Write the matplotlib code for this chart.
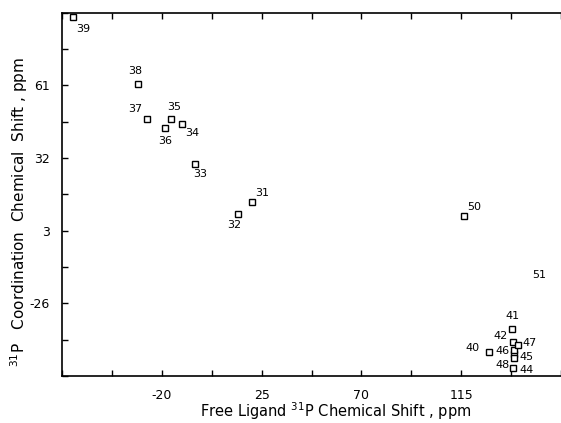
import numpy as np
import matplotlib
matplotlib.use("Agg")
import matplotlib.pyplot as plt

# compound numbers and shifts (ppm)
labels = ["31", "32", "33", "34", "35", "36", "37", "38", "39",
          "40", "41", "42", "44", "45", "46", "47", "48", "50", "51"]
free_shift = [20.7, 14.4, -5.1, -10.7, -15.9, -18.4, -26.5, -30.6, -60.1,
              127.7, 138.0, 138.5, 138.4, 138.6, 138.6, 140.5, 138.6, 116.2, 162.0]
coord_shift = [14.3, 9.8, 29.7, 45.7, 47.7, 44.0, 47.7, 61.6, 88.1,
               -45.6, -36.1, -41.4, -51.8, -46.2, -44.5, -42.5, -47.8, 9.0, -14.0]

# label offsets in pixels (dx, dy)
offsets = {"31": (10, 9), "32": (-4, -11), "33": (5, -10), "34": (10, -9),
           "35": (3, 12), "36": (0, -13), "37": (-12, 10), "38": (-3, 13),
           "39": (10, -12), "40": (-17, 4), "41": (0, 13), "42": (-13, 6),
           "44": (13, -2), "45": (13, -3), "46": (-11, -1), "47": (12, 2),
           "48": (-11, -7), "50": (10, 9), "51": (-26, -2)}

x_ticks = np.arange(-65, 160.1, 22.5)
y_ticks = np.arange(-55, 90.1, 14.5)
x_labels = {-20: "-20", 25: "25", 70: "70", 115: "115"}
y_labels = {61: "61", 32: "32", 3: "3", -26: "-26"}

fig = plt.figure(figsize=(5.61, 4.23), dpi=100)
ax = fig.add_axes([62 / 561, 47 / 423, 1 - 62 / 561, 363.5 / 423])

ax.plot(free_shift, coord_shift, linestyle="none", marker="s", markersize=5,
        markerfacecolor="white", markeredgecolor="black", markeredgewidth=1.0)

for lab, x, y in zip(labels, free_shift, coord_shift):
    dx, dy = offsets[lab]
    ax.annotate(lab, (x, y), xytext=(dx, dy), textcoords="offset pixels",
                ha="center", va="center", fontsize=8, annotation_clip=False)

ax.set_xlim(-64.3, 156.9)
ax.set_ylim(-55, 90)

ax.set_xticks(x_ticks)
ax.set_xticklabels([x_labels.get(int(round(t)), "") if float(t).is_integer() else "" for t in x_ticks])
ax.set_yticks(y_ticks)
ax.set_yticklabels([y_labels.get(int(round(t)), "") if float(t).is_integer() else "" for t in y_ticks])

ax.tick_params(direction="in", length=4, width=1.0, top=True, labelsize=9, pad=9)
ax.spines["right"].set_visible(False)
for s in ["left", "bottom", "top"]:
    ax.spines[s].set_linewidth(1.2)

fig.text(0.549 * (1 - 62 / 561) + 62 / 561, 0.028,
         r"Free Ligand $^{31}$P Chemical Shift , ppm",
         ha="center", va="center", fontsize=10.5)
fig.text(0.034, 0.50, r"$^{31}$P   Coordination  Chemical  Shift , ppm",
         ha="center", va="center", rotation=90, fontsize=11)

fig.savefig("out.png", dpi=100)
